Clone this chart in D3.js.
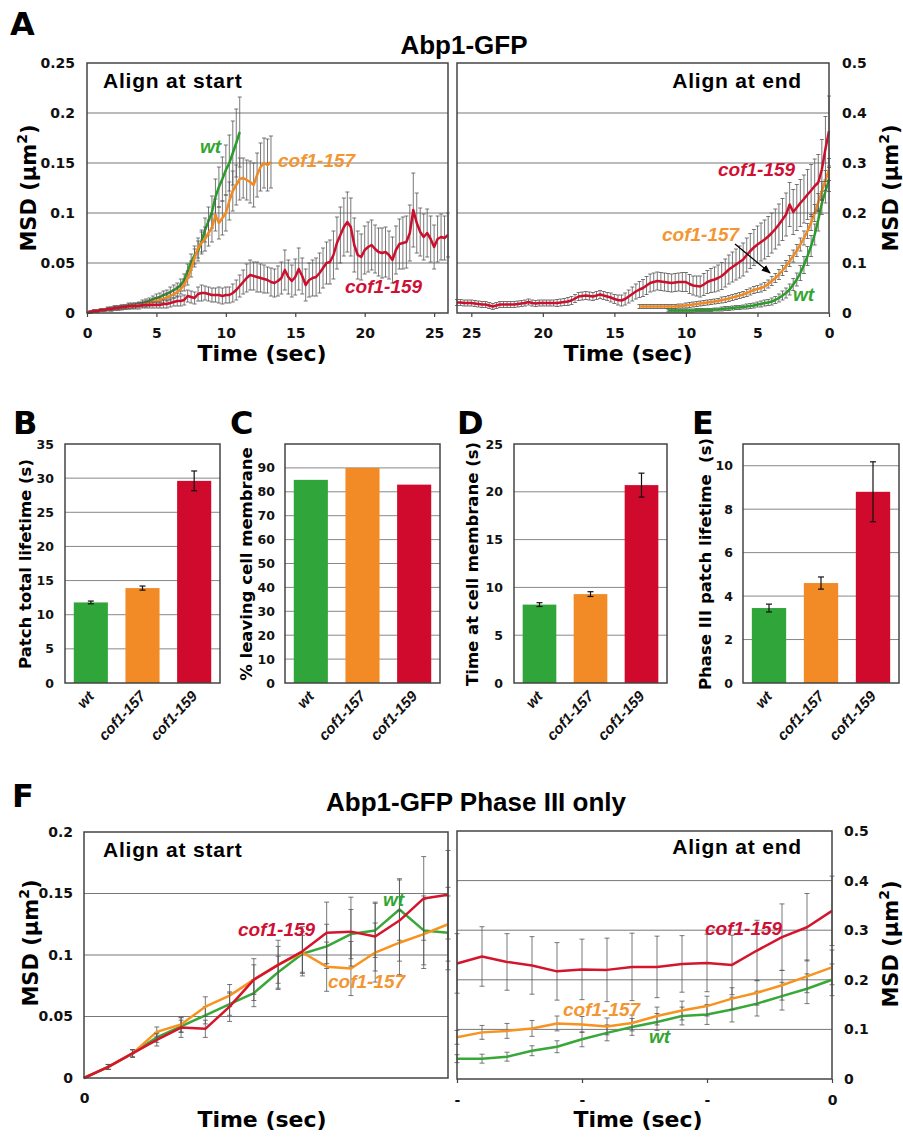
<!DOCTYPE html>
<html>
<head>
<meta charset="utf-8">
<script src="https://cdn.jsdelivr.net/npm/d3@7"></script>
<style>
  body { margin: 0; background: #fff; }
  text { white-space: pre; }
</style>
</head>
<body>
<svg id="fig" width="903" height="1140"></svg>
<script>
// ---------- data ----------
const strains = ["wt", "cof1-157", "cof1-159"];
const STEP = 0.25; // s between frames in panel A

// Panel A, align at start (t = 0, 0.25, 0.5 ...)
const wtStartA = [
  0, .001, .002, .002, .003, .003, .004, .004, .005, .005, .006, .006,
  .007, .007, .008, .009, .010, .011, .012, .014, .015, .016, .018, .019,
  .021, .023, .025, .028, .033, .042, .051, .058, .062, .072, .083, .092,
  .101, .116, .126, .134, .143, .150, .160, .170, .181];
const wtStartAErr = [
  0, .001, .001, .001, .001, .001, .001, .002, .002, .002, .002, .002,
  .002, .002, .002, .002, .003, .003, .003, .003, .004, .004, .004, .004,
  .005, .005, .005, .006, .006, .007, .008, .009, .010, .011, .012, .014,
  .016, .018, .020, .022, .025, .028, .032, .034, .035];
const c157StartA = [
  0, .001, .002, .002, .003, .003, .004, .004, .005, .005,
  .005, .006, .006, .007, .007, .008, .008, .009, .010, .011,
  .012, .013, .014, .016, .017, .019, .021, .024, .028, .035,
  .044, .055, .065, .070, .074, .080, .085, .098, .090, .095,
  .100, .112, .122, .128, .134, .135, .133, .131, .128, .138,
  .146, .150, .148, .151];
const c157StartAErr = [
  0, .001, .001, .001, .001, .001, .001, .001, .002, .002,
  .002, .002, .002, .002, .002, .002, .002, .003, .003, .003,
  .003, .003, .004, .004, .004, .004, .005, .005, .006, .007,
  .008, .009, .010, .011, .012, .013, .014, .016, .016, .017,
  .018, .019, .020, .020, .021, .020, .020, .021, .022, .022,
  .024, .025, .026, .026];
const c159StartA = [
  0, .001, .002, .002,   .003, .003, .004, .004,   .005, .005, .006, .006,
  .007, .007, .007, .007,   .008, .008, .008, .008,   .008, .008, .009, .009,
  .010, .011, .012, .012,   .013, .017, .016, .015,   .019, .020, .020, .019,
  .018, .018, .018, .017,   .018, .018, .020, .023,   .027, .031, .035, .038,
  .037, .036, .035, .034,   .033, .031, .030, .032,   .035, .043, .036, .032,
  .036, .044, .037, .028,   .033, .035, .036, .040,   .045, .050, .051, .058,
  .070, .078, .086, .091,   .086, .068, .058, .056,   .063, .066, .068, .064,
  .061, .060, .061, .058,   .053, .063, .069, .070,   .071, .080, .103, .090,
  .081, .076, .080, .074,   .066, .074, .076, .075,   .078];
const c159StartAErr = [
  0, .001, .001, .001,   .001, .001, .002, .002,   .002, .002, .002, .002,
  .003, .003, .003, .003,   .003, .003, .003, .003,   .003, .003, .004, .004,
  .004, .004, .005, .005,   .005, .006, .006, .006,   .007, .008, .007, .007,
  .007, .007, .008, .008,   .008, .008, .009, .010,   .011, .012, .014, .015,
  .014, .015, .014, .014,   .013, .014, .014, .015,   .016, .020, .017, .016,
  .018, .021, .018, .016,   .017, .018, .019, .020,   .020, .021, .022, .024,
  .026, .028, .029, .030,   .029, .027, .024, .023,   .024, .025, .025, .024,
  .024, .025, .025, .024,   .023, .024, .025, .026,   .026, .028, .037, .030,
  .024, .023, .024, .023,   .022, .023, .023, .022,   .022];

// Panel A, align at end (last value is t = 0)
const wtEndA = [
  .005,
  .005, .005, .005, .005,   .005, .005, .005, .006,   .006, .006, .006, .006,
  .007, .007, .008, .009,   .009, .010, .011, .011,   .012, .013, .014, .015,
  .017, .018, .020, .021,   .023, .026, .030, .035,   .040, .047, .057, .067,
  .080, .096, .114, .134,   .157, .186, .220, .243,
  .267];
const wtEndAErr = [
  .003,
  .003, .003, .003, .003,   .003, .003, .003, .003,   .003, .003, .003, .003,
  .003, .003, .004, .004,   .004, .004, .004, .004,   .004, .005, .005, .005,
  .005, .006, .006, .006,   .007, .007, .008, .009,   .010, .011, .012, .013,
  .015, .017, .019, .021,   .021, .022, .023, .023,
  .024];
const c157EndA = [
  .013,
  .013, .013, .013, .013,   .013, .013, .013, .013,   .013, .013, .014, .014,
  .015, .016, .017, .018,   .019, .020, .021, .022,   .023, .024, .026, .027,
  .029, .031, .033, .035,   .037, .040, .043, .046,   .048, .050, .053, .058,
  .064, .070, .077, .085,   .094, .104, .114, .125,   .137, .150, .164, .181,
  .200, .221, .244, .265,
  .287];
const c157EndAErr = [
  .004,
  .004, .004, .004, .004,   .004, .004, .004, .004,   .004, .004, .004, .004,
  .005, .005, .005, .005,   .005, .005, .005, .005,   .005, .005, .006, .006,
  .006, .006, .006, .006,   .006, .007, .007, .007,   .007, .008, .008, .008,
  .009, .009, .010, .010,   .011, .011, .012, .012,   .013, .014, .015, .016,
  .017, .018, .019, .020,
  .022];
const c159EndA = [
  .021,
  .021, .020, .020, .020,   .019, .018, .017, .017,   .015, .013, .015, .017,
  .017, .017, .017, .017,   .018, .019, .020, .022,   .020, .019, .020, .020,
  .020, .020, .020, .020,   .021, .022, .023, .025,   .029, .033, .034, .035,
  .034, .033, .035, .037,   .035, .033, .031, .028,   .026, .025, .028, .033,
  .038, .043, .047, .050,   .055, .060, .062, .064,   .063, .062, .061, .060,
  .061, .062, .062, .062,   .058, .055, .054, .053,   .057, .062, .065, .067,
  .070, .074, .080, .087,   .092, .097, .102, .107,   .116, .124, .131, .137,
  .142, .147, .153, .160,   .168, .177, .187, .197,   .217, .202, .211, .220,
  .228, .237, .245, .254,   .261, .287, .328, .364];
const c159EndAErr = [
  .006,
  .006, .006, .006, .006,   .006, .006, .006, .006,   .006, .006, .006, .006,
  .006, .006, .006, .006,   .006, .006, .006, .006,   .006, .006, .006, .006,
  .006, .006, .006, .007,   .007, .007, .008, .008,   .008, .008, .008, .008,
  .008, .008, .008, .008,   .008, .008, .009, .009,   .010, .011, .012, .013,
  .014, .015, .016, .017,   .018, .018, .018, .018,   .018, .018, .018, .018,
  .018, .018, .019, .019,   .019, .019, .020, .021,   .022, .023, .024, .025,
  .026, .027, .028, .029,   .030, .031, .032, .033,   .034, .035, .036, .037,
  .038, .039, .040, .040,   .040, .041, .042, .043,   .044, .045, .046, .047,
  .048, .050, .052, .054,   .056, .060, .065, .070];

// Panels B-E
const lifetimeB = [11.8, 13.9, 29.6];
const lifetimeBErr = [0.2, 0.3, 1.45];
const leavingC = [85, 90, 83];
const membraneD = [8.2, 9.3, 20.7];
const membraneDErr = [0.2, 0.25, 1.25];
const phase3E = [3.45, 4.6, 8.8];
const phase3EErr = [0.18, 0.28, 1.38];

// Panel F, phase III only (frame index)
const wtStartF   = [0, .009, .020, .033, .042, .051, .060, .069, .086, .101, .107, .117, .120, .137, .120, .118];
const wtStartFErr = [0, .002, .003, .004, .005, .007, .009, .011, .013, .015, .018, .020, .022, .025, .028, .030];
const c157StartF = [0, .009, .020, .0375, .0435, .058, .067, .080, .092, .102, .0905, .089, .102, .110, .117, .125];
const c157StartFErr = [0, .002, .003, .004, .006, .008, .009, .012, .015, .017, .020, .022, .024, .026, .028, .030];
const c159StartF = [0, .009, .020, .031, .041, .040, .058, .080, .092, .103, .118, .119, .115, .128, .146, .149];
const c159StartFErr = [0, .002, .003, .005, .008, .007, .012, .017, .020, .020, .025, .028, .028, .033, .034, .036];

const wtEndF   = [.041, .041, .045, .057, .065, .080, .093, .105, .115, .127, .130, .140, .152, .167, .182, .200];
const wtEndFErr = [.008, .009, .009, .010, .012, .015, .016, .017, .017, .018, .020, .025, .025, .028, .030, .032];
const c157EndF = [.084, .094, .097, .102, .112, .110, .106, .113, .127, .138, .147, .162, .174, .189, .207, .225];
const c157EndFErr = [.014, .014, .015, .016, .015, .016, .017, .016, .018, .019, .020, .022, .025, .030, .033, .035];
const c159EndF = [.233, .247, .236, .229, .217, .221, .220, .226, .226, .232, .234, .230, .259, .286, .306, .339];
const c159EndFErr = [.060, .060, .057, .058, .058, .061, .064, .068, .062, .057, .058, .060, .061, .067, .068, .070];

// ---------- styles ----------
const VERD = "DejaVu Sans, Verdana, sans-serif";
const ARIAL = "Liberation Sans, Arial, sans-serif";
const lineCol = { wt: "#2b9c2b", c157: "#f08a22", c159: "#cc0f2c" };
const barCol = ["#30a63a", "#f28b26", "#cf0a2c"];
const lblCol = { wt: "#33a530", c157: "#f39632", c159: "#cf1034" };

const svg = d3.select("#fig");
svg.append("rect").attr("width", 903).attr("height", 1140).attr("fill", "#fff");

svg.append("defs").append("marker")
  .attr("id", "arrow").attr("viewBox", "0 0 10 10")
  .attr("refX", 9).attr("refY", 5)
  .attr("markerWidth", 7).attr("markerHeight", 7)
  .attr("orient", "auto")
  .append("path").attr("d", "M0,1 L10,5 L0,9 Z").attr("fill", "#000");

const startTimes = (vals, step) => vals.map((_, i) => i * step);
const endTimes = (vals, step) => vals.map((_, i) => (i - vals.length + 1) * step);
const fmtMsd = (d) => (d === 0 ? "0" : String(+d.toFixed(2)));

function text(x, y, str, o) {
  const t = svg.append("text").attr("x", x).attr("y", y)
    .attr("font-family", o.family || VERD)
    .attr("font-size", o.size)
    .attr("font-weight", o.weight || "bold")
    .attr("font-style", o.style || "normal")
    .attr("fill", o.fill || "#000")
    .attr("text-anchor", o.anchor || "start")
    .text(str);
  if (o.ls) t.attr("letter-spacing", o.ls);
  return t;
}

function rotText(x, y, angle, str, o) {
  return text(0, 0, str, Object.assign({ anchor: "middle" }, o))
    .attr("transform", `translate(${x},${y}) rotate(${angle})`);
}

function msdLabel(x, y) {
  const t = svg.append("text")
    .attr("transform", `translate(${x},${y}) rotate(-90)`)
    .attr("text-anchor", "middle")
    .attr("font-family", VERD).attr("font-size", 21).attr("font-weight", "bold");
  t.append("tspan").text("MSD (\u00b5m");
  t.append("tspan").attr("font-size", 14).attr("dy", -9).text("2");
  t.append("tspan").attr("dy", 9).text(")");
}

function linePanel(p) {
  const x = d3.scaleLinear().domain(p.xDomain).range([p.left, p.right]);
  const y = d3.scaleLinear().domain(p.yDomain).range([p.bottom, p.top]);
  const g = svg.append("g");

  g.append("g").selectAll("line")
    .data(p.yTicks.filter((v) => v > p.yDomain[0] && v < p.yDomain[1]))
    .join("line")
    .attr("x1", p.left).attr("x2", p.right)
    .attr("y1", (d) => y(d)).attr("y2", (d) => y(d))
    .attr("stroke", "#777").attr("stroke-width", 1);

  p.series.forEach((s) => {
    const pts = s.vals.map((v, i) => ({ t: s.times[i], v: v, e: s.errs[i] }));
    const eb = g.append("g").attr("stroke", "#555").attr("stroke-width", 0.8);
    pts.filter((d) => d.e > 0).forEach((d) => {
      const cx = x(d.t);
      const y1 = y(d.v + d.e), y2 = y(d.v - d.e);
      eb.append("line").attr("x1", cx).attr("x2", cx).attr("y1", y1).attr("y2", y2);
      eb.append("line").attr("x1", cx - p.cap).attr("x2", cx + p.cap).attr("y1", y1).attr("y2", y1);
      eb.append("line").attr("x1", cx - p.cap).attr("x2", cx + p.cap).attr("y1", y2).attr("y2", y2);
    });
    g.append("path").datum(pts)
      .attr("d", d3.line().x((d) => x(d.t)).y((d) => y(d.v)))
      .attr("fill", "none").attr("stroke", s.color)
      .attr("stroke-width", p.lw).attr("stroke-linejoin", "round");
  });

  g.append("rect")
    .attr("x", p.left).attr("y", p.top)
    .attr("width", p.right - p.left).attr("height", p.bottom - p.top)
    .attr("fill", "none").attr("stroke", "#444").attr("stroke-width", 1.5);

  const xa = g.append("g").attr("transform", `translate(0,${p.bottom})`)
    .call(d3.axisBottom(x).tickValues(p.xTicks).tickFormat(p.xFormat)
      .tickSize(p.xTickSize).tickPadding(p.xTickPad));
  xa.select(".domain").remove();
  xa.selectAll("line").attr("stroke", "#444").attr("stroke-width", 1.2);
  xa.selectAll("text").attr("font-family", VERD).attr("font-size", 14)
    .attr("font-weight", "bold").attr("fill", "#111");

  const axis = p.yRight ? d3.axisRight(y) : d3.axisLeft(y);
  const ya = g.append("g").attr("transform", `translate(${p.yRight ? p.right : p.left},0)`)
    .call(axis.tickValues(p.yTicks).tickFormat(fmtMsd).tickSize(0).tickPadding(p.yTickPad));
  ya.select(".domain").remove();
  ya.selectAll("text").attr("font-family", VERD).attr("font-size", 14)
    .attr("font-weight", "bold").attr("fill", "#111");
  return { x, y };
}

function barPanel(p) {
  const x = d3.scaleBand().domain(strains).range([p.left, p.right])
    .paddingInner(0.34).paddingOuter(0.17);
  const y = d3.scaleLinear().domain(p.yDomain).range([683, 444]);
  const g = svg.append("g");

  g.append("g").selectAll("line")
    .data(p.yTicks.filter((v) => v > p.yDomain[0] && v < p.yDomain[1]))
    .join("line")
    .attr("x1", p.left).attr("x2", p.right)
    .attr("y1", (d) => y(d)).attr("y2", (d) => y(d))
    .attr("stroke", "#888").attr("stroke-width", 1);

  g.append("g").selectAll("rect")
    .data(p.vals)
    .join("rect")
    .attr("x", (d, i) => x(strains[i])).attr("width", x.bandwidth())
    .attr("y", (d) => y(d)).attr("height", (d) => y(0) - y(d))
    .attr("fill", (d, i) => barCol[i]);

  if (p.errs) {
    const eb = g.append("g").attr("stroke", "#111").attr("stroke-width", 1.2);
    p.vals.forEach((v, i) => {
      const cx = x(strains[i]) + x.bandwidth() / 2;
      const y1 = y(v + p.errs[i]), y2 = y(v - p.errs[i]);
      eb.append("line").attr("x1", cx).attr("x2", cx).attr("y1", y1).attr("y2", y2);
      eb.append("line").attr("x1", cx - 3).attr("x2", cx + 3).attr("y1", y1).attr("y2", y1);
      eb.append("line").attr("x1", cx - 3).attr("x2", cx + 3).attr("y1", y2).attr("y2", y2);
    });
  }

  g.append("rect")
    .attr("x", p.left).attr("y", 444)
    .attr("width", p.right - p.left).attr("height", 683 - 444)
    .attr("fill", "none").attr("stroke", "#444").attr("stroke-width", 1.5);

  const ya = g.append("g").attr("transform", `translate(${p.left},0)`)
    .call(d3.axisLeft(y).tickValues(p.yTicks).tickSize(0).tickPadding(p.yPad));
  ya.select(".domain").remove();
  ya.selectAll("text").attr("font-family", VERD).attr("font-size", 12.5)
    .attr("font-weight", "bold").attr("fill", "#111");

  strains.forEach((s) => {
    const cx = x(s) + x.bandwidth() / 2;
    g.append("text")
      .attr("transform", `translate(${cx + 4},697) rotate(-47)`)
      .attr("text-anchor", "end")
      .attr("font-family", ARIAL).attr("font-size", 15)
      .attr("font-weight", "bold")
      .attr("font-style", "italic").attr("fill", "#111")
      .text(s);
  });

  rotText(p.labelX, 564, -90, p.label, { size: 16.5 });
}

// ---------- panel A ----------
text(10, 35, "A", { size: 32 });
text(464, 54, "Abp1-GFP", { family: ARIAL, size: 26, anchor: "middle" });

linePanel({
  left: 87, right: 448, top: 63, bottom: 313,
  xDomain: [0, 26], yDomain: [0, 0.25],
  xTicks: [0, 5, 10, 15, 20, 25], xFormat: (d) => String(d),
  xTickSize: 4, xTickPad: 11,
  yTicks: [0, 0.05, 0.1, 0.15, 0.2, 0.25], yTickPad: 12,
  cap: 2, lw: 2.5,
  series: [
    { vals: wtStartA, errs: wtStartAErr, times: startTimes(wtStartA, STEP), color: lineCol.wt },
    { vals: c157StartA, errs: c157StartAErr, times: startTimes(c157StartA, STEP), color: lineCol.c157 },
    { vals: c159StartA, errs: c159StartAErr, times: startTimes(c159StartA, STEP), color: lineCol.c159 },
  ],
});

linePanel({
  left: 457, right: 829, top: 63, bottom: 313,
  xDomain: [-26, 0], yDomain: [0, 0.5],
  xTicks: [-25, -20, -15, -10, -5, 0], xFormat: (d) => String(Math.abs(d)),
  xTickSize: 4, xTickPad: 11,
  yTicks: [0, 0.1, 0.2, 0.3, 0.4, 0.5], yTickPad: 13, yRight: true,
  cap: 2, lw: 2.5,
  series: [
    { vals: wtEndA, errs: wtEndAErr, times: endTimes(wtEndA, STEP), color: lineCol.wt },
    { vals: c157EndA, errs: c157EndAErr, times: endTimes(c157EndA, STEP), color: lineCol.c157 },
    { vals: c159EndA, errs: c159EndAErr, times: endTimes(c159EndA, STEP), color: lineCol.c159 },
  ],
});

text(103, 88, "Align at start", { family: ARIAL, size: 21, ls: 0.8 });
text(802, 88, "Align at end", { family: ARIAL, size: 21, ls: 0.8, anchor: "end" });
msdLabel(36, 188);
msdLabel(898, 188);
text(262, 361, "Time (sec)", { size: 22, anchor: "middle" });
text(628, 361, "Time (sec)", { size: 22, anchor: "middle" });

const serif = { family: ARIAL, size: 19, style: "italic" };
text(200, 153, "wt", Object.assign({ fill: lblCol.wt }, serif));
text(278, 167, "cof1-157", Object.assign({ fill: lblCol.c157 }, serif));
text(345, 293, "cof1-159", Object.assign({ fill: lblCol.c159 }, serif));
text(718, 176, "cof1-159", Object.assign({ fill: lblCol.c159 }, serif));
text(662, 241, "cof1-157", Object.assign({ fill: lblCol.c157 }, serif));
text(793, 301, "wt", Object.assign({ fill: lblCol.wt }, serif));
svg.append("line")
  .attr("x1", 735).attr("y1", 244).attr("x2", 770).attr("y2", 273)
  .attr("stroke", "#000").attr("stroke-width", 1.3)
  .attr("marker-end", "url(#arrow)");

// ---------- panels B-E ----------
text(13, 434, "B", { size: 32 });
text(230, 434, "C", { size: 32 });
text(457, 434, "D", { size: 32 });
text(692, 434, "E", { size: 32 });

barPanel({ left: 65, right: 220, yDomain: [0, 35], yTicks: d3.range(0, 36, 5), yPad: 11,
  vals: lifetimeB, errs: lifetimeBErr, label: "Patch total lifetime (s)", labelX: 31 });
barPanel({ left: 285, right: 440, yDomain: [0, 100], yTicks: d3.range(0, 91, 10), yPad: 10,
  vals: leavingC, label: "% leaving cell membrane", labelX: 252 });
barPanel({ left: 514, right: 667, yDomain: [0, 25], yTicks: d3.range(0, 26, 5), yPad: 11,
  vals: membraneD, errs: membraneDErr, label: "Time at cell membrane (s)", labelX: 478 });
barPanel({ left: 743, right: 899, yDomain: [0, 11], yTicks: d3.range(0, 11, 2), yPad: 10,
  vals: phase3E, errs: phase3EErr, label: "Phase III patch lifetime  (s)", labelX: 711 });

// ---------- panel F ----------
text(12, 807, "F", { size: 32 });
text(476, 811, "Abp1-GFP Phase III only", { family: ARIAL, size: 26, anchor: "middle" });

linePanel({
  left: 84, right: 448, top: 832, bottom: 1078,
  xDomain: [0, 15], yDomain: [0, 0.2],
  xTicks: [0], xFormat: () => "0",
  xTickSize: 0, xTickPad: 15,
  yTicks: [0, 0.05, 0.1, 0.15, 0.2], yTickPad: 11,
  cap: 2.5, lw: 2.5,
  series: [
    { vals: wtStartF, errs: wtStartFErr, times: startTimes(wtStartF, 1), color: "#38a838" },
    { vals: c157StartF, errs: c157StartFErr, times: startTimes(c157StartF, 1), color: "#f7931e" },
    { vals: c159StartF, errs: c159StartFErr, times: startTimes(c159StartF, 1), color: "#d4152e" },
  ],
});

linePanel({
  left: 457, right: 832, top: 831, bottom: 1079,
  xDomain: [-15, 0], yDomain: [0, 0.5],
  xTicks: [-15, -10, -5, 0], xFormat: (d) => (d === 0 ? "0" : "-"),
  xTickSize: 4, xTickPad: 12,
  yTicks: [0, 0.1, 0.2, 0.3, 0.4, 0.5], yTickPad: 12, yRight: true,
  cap: 2.5, lw: 2.5,
  series: [
    { vals: wtEndF, errs: wtEndFErr, times: endTimes(wtEndF, 1), color: "#38a838" },
    { vals: c157EndF, errs: c157EndFErr, times: endTimes(c157EndF, 1), color: "#f7931e" },
    { vals: c159EndF, errs: c159EndFErr, times: endTimes(c159EndF, 1), color: "#d4152e" },
  ],
});

text(103, 857, "Align at start", { family: ARIAL, size: 21, ls: 0.8 });
text(802, 854, "Align at end", { family: ARIAL, size: 21, ls: 0.8, anchor: "end" });
msdLabel(38, 943);
msdLabel(898, 944);
text(262, 1127, "Time (sec)", { size: 22, anchor: "middle" });
text(638, 1127, "Time (sec)", { size: 22, anchor: "middle" });

text(238, 936, "cof1-159", Object.assign({ fill: lblCol.c159 }, serif));
text(328, 988, "cof1-157", Object.assign({ fill: lblCol.c157 }, serif));
text(383, 906, "wt", Object.assign({ fill: lblCol.wt }, serif));
text(705, 935, "cof1-159", Object.assign({ fill: lblCol.c159 }, serif));
text(563, 1016, "cof1-157", Object.assign({ fill: lblCol.c157 }, serif));
text(649, 1043, "wt", Object.assign({ fill: lblCol.wt }, serif));
</script>
</body>
</html>
